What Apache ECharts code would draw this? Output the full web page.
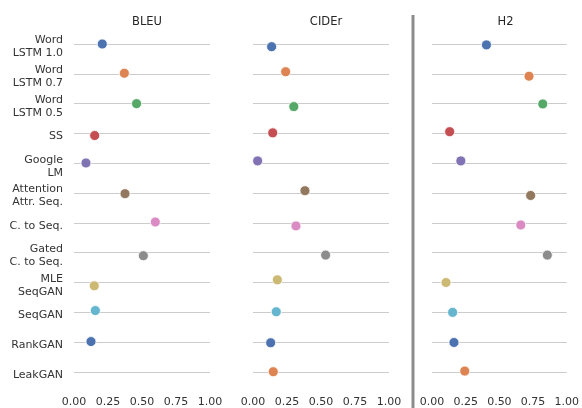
<!DOCTYPE html>
<html>
<head>
<meta charset="utf-8">
<script src="https://cdn.jsdelivr.net/npm/echarts@6/dist/echarts.min.js"></script>
<style>html,body{margin:0;padding:0;background:#fff;}#c{width:582px;height:408px;}</style>
</head>
<body>
<div id="c"></div>
<script>
var categories = ['Word\nLSTM 1.0','Word\nLSTM 0.7','Word\nLSTM 0.5','SS','Google\nLM','Attention\nAttr. Seq.','C. to Seq.','Gated\nC. to Seq.','MLE\nSeqGAN','SeqGAN','RankGAN','LeakGAN'];
var panelTitles = ['BLEU','CIDEr','H2'];
var bleu  = [0.208,0.37,0.46,0.152,0.088,0.375,0.598,0.51,0.149,0.157,0.125,0.162];
var cider = [0.137,0.24,0.30,0.145,0.034,0.382,0.316,0.534,0.179,0.171,0.13,0.149];
var h2    = [0.404,0.72,0.822,0.131,0.214,0.732,0.659,0.856,0.104,0.153,0.163,0.243];
// vertical strip jitter (in category units)
var jitterBleu  = [0,-0.02,0,0.07,-0.01,0.02,-0.03,0.10,0.11,-0.06,-0.02,0.01];
var jitterCider = [0.09,-0.07,0.10,-0.02,-0.08,-0.08,0.10,0.08,-0.09,-0.02,0.02,-0.01];
var jitterH2    = [0.03,0.08,0.01,-0.06,-0.08,0.08,0.07,0.08,0,0,0.01,-0.03];
var xTicks = [0, 0.25, 0.5, 0.75, 1.0];
var palette = ['#4C72B0','#DD8452','#55A868','#C44E52','#8172B3','#937860','#DA8BC3','#8C8C8C','#CCB974','#64B5CD','#4C72B0','#DD8452'];

var values = [bleu, cider, h2];
var jitters = [jitterBleu, jitterCider, jitterH2];
var lefts = [74, 253, 432];
var widths = [136, 136, 137];
var font = 'DejaVu Sans';

var grid = [], xAxis = [], yAxis = [], series = [], title = [];
for (var p = 0; p < 3; p++) {
  grid.push({left: lefts[p], width: widths[p], top: 44, height: 328});
  title.push({text: panelTitles[p], left: lefts[p] + widths[p]/2, top: 11, textAlign: 'center',
    textStyle: {fontFamily: font, fontSize: 11.5, fontWeight: 'normal', color: '#262626'}});
  xAxis.push({gridIndex: p, type: 'value', min: xTicks[0], max: xTicks[xTicks.length-1], interval: 0.25,
    axisLine: {show: false}, axisTick: {show: false}, splitLine: {show: false},
    axisLabel: {fontFamily: font, fontSize: 11, color: '#333', margin: 25,
      formatter: function (v) { return v.toFixed(2); }}});
  yAxis.push({gridIndex: p, type: 'category', data: categories, boundaryGap: false, inverse: true,
    axisLine: {show: false}, axisTick: {show: false},
    splitLine: {show: true, interval: 0, lineStyle: {color: '#cccccc', width: 1.2}},
    axisLabel: {show: false}});
  yAxis.push({gridIndex: p, type: 'value', min: 0, max: categories.length - 1, inverse: true, show: false});
  var data = values[p].map(function (v, i) {
    return {value: [v, i + jitters[p][i]], itemStyle: {color: palette[i]}};
  });
  series.push({type: 'scatter', xAxisIndex: p, yAxisIndex: 2*p + 1, data: data, symbolSize: 10,
    itemStyle: {borderColor: '#ffffff', borderWidth: 0.8, opacity: 1}, z: 5});
}
// label-only grid, nudged down slightly to match text baseline placement
grid.push({left: lefts[0], width: widths[0], top: 47, height: 328});
xAxis.push({gridIndex: 3, type: 'value', min: 0, max: 1, show: false});
yAxis.push({gridIndex: 3, type: 'category', data: categories, boundaryGap: false, inverse: true,
  axisLine: {show: false}, axisTick: {show: false}, splitLine: {show: false},
  axisLabel: {interval: 0, fontFamily: font, fontSize: 11, color: '#333', margin: 11, lineHeight: 13, align: 'right'}});

var chart = echarts.init(document.getElementById('c'), null, {renderer: 'canvas'});
chart.setOption({
  animation: false,
  backgroundColor: '#ffffff',
  title: title,
  grid: grid, xAxis: xAxis, yAxis: yAxis, series: series,
  graphic: [{type: 'rect', shape: {x: 411.5, y: 15, width: 3, height: 393}, style: {fill: '#8c8c8c'}, silent: true}]
});
</script>
</body>
</html>
